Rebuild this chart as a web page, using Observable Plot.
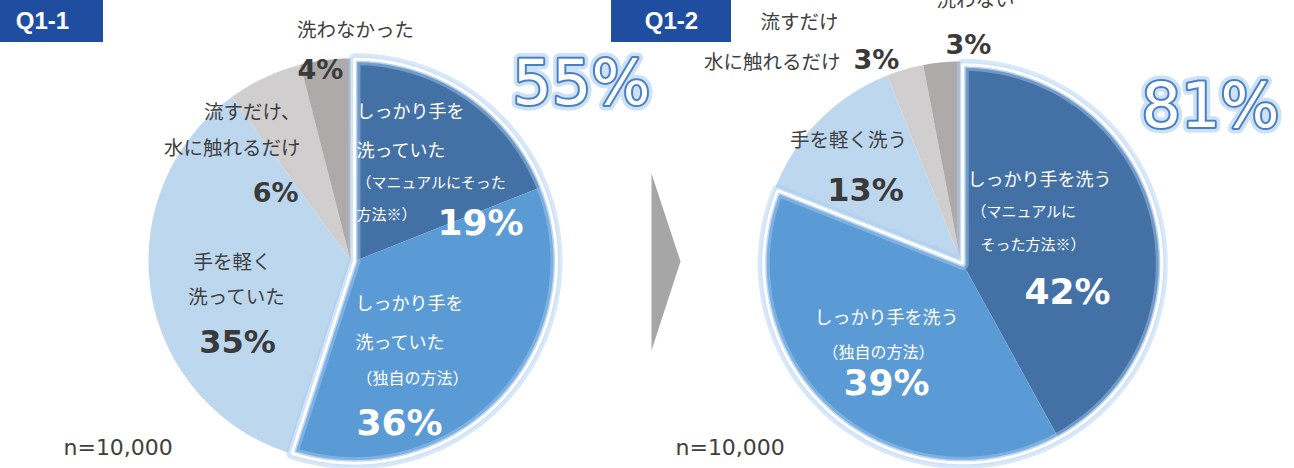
<!DOCTYPE html>
<html><head><meta charset="utf-8">
<script src="https://cdn.jsdelivr.net/npm/d3@7"></script>
<script src="https://cdn.jsdelivr.net/npm/@observablehq/plot@0.6"></script>
<style>body{margin:0;background:#fff;} svg{display:block}</style>
</head><body><div id="chart"></div>
<script>
// ---------- DATA ----------
const panelTitles = ["Q1-1", "Q1-2"];
const q11Categories = ["しっかり手を洗っていた（マニュアルにそった方法※）", "しっかり手を洗っていた（独自の方法）", "手を軽く洗っていた", "流すだけ、水に触れるだけ", "洗わなかった"];
const q11Values = [19, 36, 35, 6, 4];
const q12Categories = ["しっかり手を洗う（マニュアルにそった方法※）", "しっかり手を洗う（独自の方法）", "手を軽く洗う", "流すだけ 水に触れるだけ", "洗わない"];
const q12Values = [42, 39, 13, 3, 3];
const sampleSizeLabel = "n=10,000";
// label text lines per slice (main text lines / note lines)
const q11Lines = [["しっかり手を", "洗っていた"], ["しっかり手を", "洗っていた"], ["手を軽く", "洗っていた"], ["流すだけ、", "水に触れるだけ"], ["洗わなかった"]];
const q11Notes = [["（マニュアルにそった", "方法※）"], ["（独自の方法）"], [], [], []];
const q12Lines = [["しっかり手を洗う"], ["しっかり手を洗う"], ["手を軽く洗う"], ["流すだけ", "水に触れるだけ"], ["洗わない"]];
const q12Notes = [["（マニュアルに", "そった方法※）"], ["（独自の方法）"], [], [], []];

// ---------- STYLE / LAYOUT ----------
const sliceColors = ["#4471a5", "#5b9bd5", "#bdd7ee", "#d0cece", "#aeaaaa"];
const W = 1294, H = 468;
const pies = [
  {id: 0, values: q11Values, lines: q11Lines, notes: q11Notes, cx: 350, cy: 260, r: 202},
  {id: 1, values: q12Values, lines: q12Lines, notes: q12Notes, cx: 960, cy: 260, r: 199}
];
const explode = 4;
const JP = "'Noto Sans CJK JP', 'Noto Sans', sans-serif";
const NUM = "'DejaVu Sans', Verdana, sans-serif";

// label layout relative to pie centre: [dx, dy, anchor] for each line / note / percent
const layout = [
  { // Q1-1
    lines: [[[6,-148,"start"],[6,-109,"start"]], [[5,44,"start"],[5,83,"start"]], [[-118,2,"middle"],[-114,37,"middle"]], [[-50,-148,"end"],[-50,-112,"end"]], [[5,-230,"middle"]]],
    notes: [[[6,-77,"start"],[6,-45,"start"]], [[6,118,"start"]], [], [], []],
    pct: [[87,-37,"start"],[6,163,"start"],[-113,82,"middle"],[-52,-67,"end"],[-30,-190,"middle"]]
  },
  { // Q1-2
    lines: [[[7,-80,"start"]], [[-74,58,"middle"]], [[-112,-120,"middle"]], [[-161,-238,"middle"],[-120,-198,"end"]], [[15,-260,"middle"]]],
    notes: [[[11,-48,"start"],[20,-15,"start"]], [[-82,92,"middle"]], [], [], []],
    pct: [[107,32,"middle"],[-74,123,"middle"],[-95,-70,"middle"],[-107,-200,"start"],[8,-215,"middle"]]
  }
];

// ---------- GEOMETRY from values ----------
function pt(p, a, rr, off) {
  return [p.cx + off[0] + rr * Math.sin(a), p.cy + off[1] - rr * Math.cos(a)];
}
const slicePts = [], outlinePts = [];
for (const p of pies) {
  const total = d3.sum(p.values);
  const hiEnd = (p.values[0] + p.values[1]) / total * 2 * Math.PI;
  const off = [explode * Math.sin(hiEnd / 2), -explode * Math.cos(hiEnd / 2)];
  let cum = 0;
  p.values.forEach((v, i) => {
    const a0 = cum / total * 2 * Math.PI; cum += v;
    const a1 = cum / total * 2 * Math.PI;
    const o = i < 2 ? off : [0, 0];
    const key = p.id + "-" + i;
    const c = pt(p, 0, 0, o);
    slicePts.push({key, x: c[0], y: c[1], color: sliceColors[i]});
    const n = Math.max(2, Math.ceil((a1 - a0) / (Math.PI / 180)));
    for (let k = 0; k <= n; k++) {
      const q = pt(p, a0 + (a1 - a0) * k / n, p.r, o);
      slicePts.push({key, x: q[0], y: q[1], color: sliceColors[i]});
    }
  });
  // outline around the two "しっかり" slices
  const c = pt(p, 0, 0, off);
  outlinePts.push({key: "o" + p.id, x: c[0], y: c[1]});
  const n = Math.ceil(hiEnd / (Math.PI / 180));
  for (let k = 0; k <= n; k++) {
    const q = pt(p, hiEnd * k / n, p.r, off);
    outlinePts.push({key: "o" + p.id, x: q[0], y: q[1]});
  }
}

// ---------- TEXT items ----------
const labOut = [], labIn = [], notes = [], pctDark = [], pctDarkS = [], pctLight = [];
pies.forEach((p, pi) => {
  p.values.forEach((v, i) => {
    const white = i < 2;
    p.lines[i].forEach((t, j) => {
      const [dx, dy, a] = layout[pi].lines[i][j];
      (white ? labIn : labOut).push({x: p.cx + dx, y: p.cy + dy, t, a});
    });
    p.notes[i].forEach((t, j) => {
      const [dx, dy, a] = layout[pi].notes[i][j];
      notes.push({x: p.cx + dx, y: p.cy + dy, t, a, size: i === 0 ? 15 : 16});
    });
    const [dx, dy, a] = layout[pi].pct[i];
    const item = {x: p.cx + dx, y: p.cy + dy, t: v + "%", a};
    if (white) pctLight.push(item);
    else if (v >= 10) pctDark.push(item);
    else pctDarkS.push(item);
  });
});
const bigTotals = pies.map((p, i) => ({
  t: (p.values[0] + p.values[1]) + "%",
  x: [581, 1210][i], y: [84, 107][i]
}));
const badges = panelTitles.map((t, i) => ({t, x1: [0, 611][i], x2: [103, 731][i], y1: 0, y2: 42, tx: [42, 671][i]}));
const samples = pies.map((p, i) => ({t: sampleSizeLabel, x: [63, 675][i], y: 447}));
const chevron = [{x: 651, y: 173}, {x: 680, y: 261}, {x: 651, y: 350}];

function textMark(data, o) {
  const groups = d3.groups(data, d => d.a);
  return groups.map(([a, g]) => Plot.text(g, {x: "x", y: "y", text: "t", textAnchor: a, lineAnchor: "middle", ...o}));
}

const chart = Plot.plot({
  width: W, height: H, margin: 0,
  x: {domain: [0, W], range: [0, W], axis: null},
  y: {domain: [0, H], range: [0, H], axis: null},
  color: {type: "identity"},
  style: {background: "#ffffff", overflow: "visible"},
  marks: [
    Plot.line(slicePts, {x: "x", y: "y", z: "key", fill: "color", stroke: "none", curve: "linear-closed"}),
    Plot.line(outlinePts, {x: "x", y: "y", z: "key", fill: "none", stroke: "#a9cdf0", strokeWidth: 12, strokeOpacity: 0.45, strokeLinejoin: "round", curve: "linear-closed"}),
    Plot.line(outlinePts, {x: "x", y: "y", z: "key", fill: "none", stroke: "#c9e0f7", strokeWidth: 6, strokeOpacity: 0.8, strokeLinejoin: "round", curve: "linear-closed"}),
    Plot.line(outlinePts, {x: "x", y: "y", z: "key", fill: "none", stroke: "#ffffff", strokeWidth: 3, strokeLinejoin: "miter", curve: "linear-closed"}),
    Plot.line(chevron, {x: "x", y: "y", fill: "#a6a6a6", stroke: "none", curve: "linear-closed"}),
    Plot.rect(badges, {x1: "x1", x2: "x2", y1: "y1", y2: "y2", fill: "#1f4ea0"}),
    Plot.text(badges, {x: "tx", y: 21, text: "t", fill: "#ffffff", fontSize: 24, fontWeight: "bold", fontFamily: "'Liberation Sans', Arial, sans-serif", lineAnchor: "middle"}),
    ...textMark(labOut, {fill: "#404040", fontSize: 19.5, fontFamily: JP}),
    ...textMark(labIn, {fill: "#ffffff", fontSize: 18, fontFamily: JP}),
    ...textMark(notes, {fill: "#ffffff", fontSize: d => d.size, fontFamily: JP}),
    ...textMark(pctDark, {fill: "#3a3a3a", fontSize: 32, fontWeight: "bold", fontFamily: NUM}),
    ...textMark(pctDarkS, {fill: "#3a3a3a", fontSize: 27, fontWeight: "bold", fontFamily: NUM}),
    ...textMark(pctLight, {fill: "#ffffff", fontSize: 36, fontWeight: "bold", fontFamily: NUM}),
    Plot.text(bigTotals, {x: "x", y: "y", text: "t", fill: "none", stroke: "#a9cdf0", strokeWidth: 11, strokeOpacity: 0.6, strokeLinejoin: "round", fontSize: 62, fontFamily: NUM, lineAnchor: "middle"}),
    Plot.text(bigTotals, {x: "x", y: "y", text: "t", fill: "#ffffff", stroke: "#4a7fc4", strokeWidth: 4, strokeLinejoin: "round", fontSize: 62, fontFamily: NUM, lineAnchor: "middle"}),
    Plot.text(samples, {x: "x", y: "y", text: "t", fill: "#404040", fontSize: 22, fontFamily: NUM, textAnchor: "start", lineAnchor: "middle"})
  ]
});
document.getElementById("chart").appendChild(chart);
</script>
</body></html>
